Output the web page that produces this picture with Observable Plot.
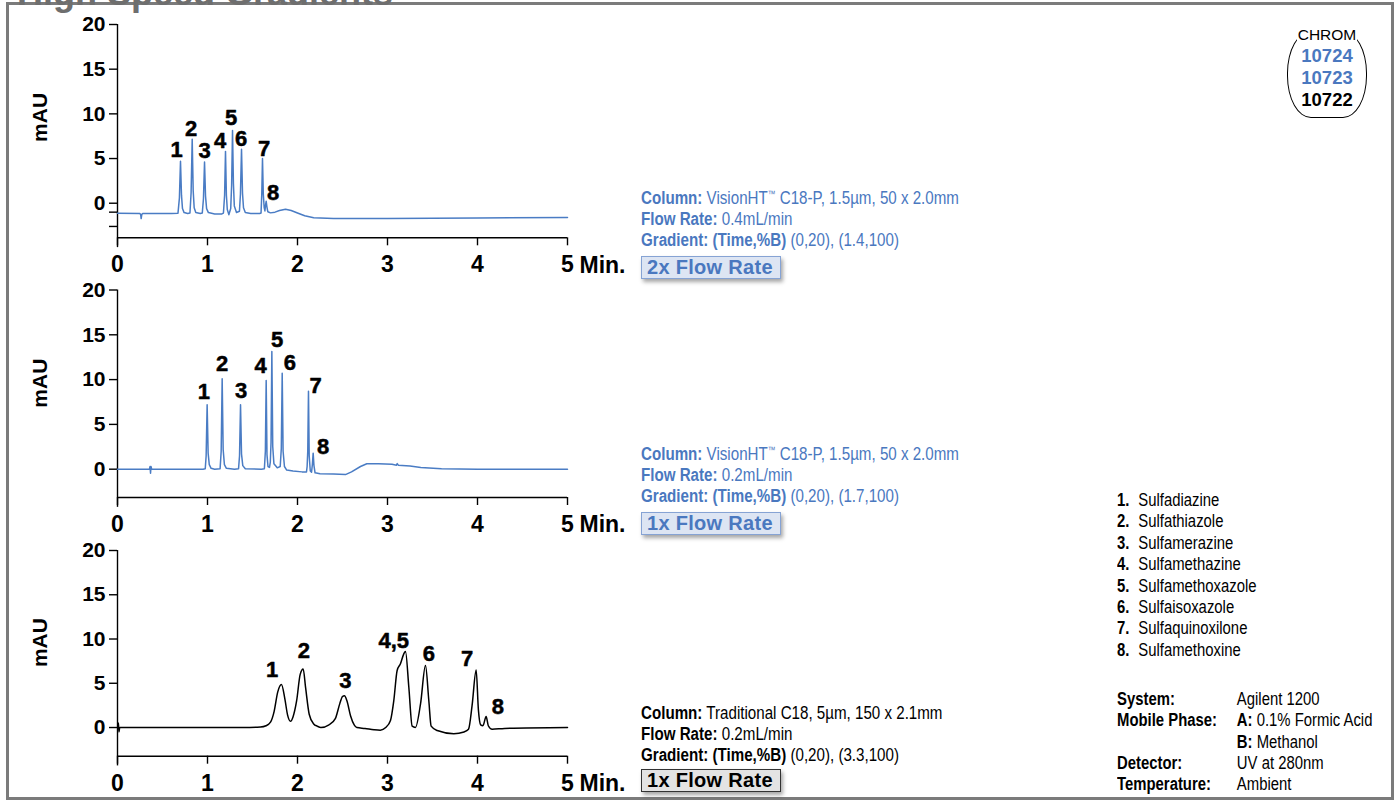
<!DOCTYPE html>
<html>
<head>
<meta charset="utf-8">
<script src="https://cdn.jsdelivr.net/npm/d3@7"></script>
<script src="https://cdn.jsdelivr.net/npm/@observablehq/plot@0.6"></script>
<style>
  html, body { margin: 0; padding: 0; background: #fff; }
  #chart { position: relative; width: 1398px; height: 801px; overflow: hidden; background: #fff;
           font-family: "Liberation Sans", Arial, Helvetica, sans-serif; color: #000; }
  .frame { position: absolute; left: 6px; top: 2px; width: 1388px; height: 798px;
           border: 3px solid #7b7b7b; box-sizing: border-box; }
  .title { position: absolute; left: 17px; top: -25.5px; font-size: 36px; line-height: 36px;
           font-weight: bold; color: #6e6e6e; white-space: nowrap; }
  .panel { position: absolute; left: 0; }
  .info { position: absolute; font-size: 17.5px; line-height: 21px; white-space: nowrap;
          transform: scaleX(0.865); transform-origin: 0 0; }
  .info sup { font-size: 9px; line-height: 0; vertical-align: 7px; }
  .blue { color: #4a78bf; }
  .badge { position: absolute; width: 140px; height: 23px; box-sizing: border-box; font-weight: bold;
           font-size: 20px; line-height: 21px; padding-left: 5px; letter-spacing: 0.3px; white-space: nowrap;
           box-shadow: 2px 3px 4px rgba(0,0,0,0.35); }
  .badge.b { color: #4a78bf; background: #dde5f3; border: 1px solid #86a3d4; }
  .badge.k { color: #000; background: #e3e3e3; border: 1px solid #333; }
  .legend { position: absolute; left: 1117px; top: 490px; font-size: 17.5px; line-height: 21.4px;
            white-space: nowrap; transform: scaleX(0.85); transform-origin: 0 0; }
  .legend .n { display: inline-block; width: 25px; font-weight: bold; }
  .sys { position: absolute; left: 1117px; top: 689px; font-size: 17.5px; line-height: 21.3px;
         white-space: nowrap; transform: scaleX(0.85); transform-origin: 0 0; }
  .sys .row { display: flex; }
  .sys .k { width: 141px; font-weight: bold; }
  .chrom { position: absolute; left: 1287px; top: 31px; width: 80px; height: 87px; box-sizing: border-box;
           border: 1.3px solid #000; border-radius: 24px / 42px; }
  .chromtxt { position: absolute; left: 1287px; width: 80px; text-align: center; white-space: nowrap; }
</style>
</head>
<body>
<div id="chart"></div>
<script>
// ---------- data ----------
const xTicks = [0, 1, 2, 3, 4, 5];
const yTicks = [0, 5, 10, 15, 20];
const panel1MinorTicks = [-1, -2.6];

const peakText = ["1", "2", "3", "4", "5", "6", "7", "8"];
const peakText3 = ["1", "2", "3", "4,5", "6", "7", "8"];

// Panel 1: VisionHT C18-P, 0.4 mL/min (2x flow rate) — [time (min), mAU]
const trace1 = [
  [0, -1.12], [0.25, -1.15], [0.258, -1.3], [0.263, -1.72], [0.27, -1.25], [0.28, -1.15],
  [0.6, -1.15], [0.672, -1.12], [0.688, 0.6], [0.700, 4.69], [0.711, 0.9], [0.722, -0.6], [0.74, -1.05], [0.78, -1.15],
  [0.805, -1.1], [0.818, 1.2], [0.830, 7.15], [0.841, 1.4], [0.852, -0.5], [0.87, -1.05], [0.92, -1.15],
  [0.942, -1.1], [0.955, 0.5], [0.967, 4.6], [0.978, 0.8], [0.99, -0.6], [1.01, -1.05], [1.08, -1.2], [1.16, -1.2],
  [1.177, -1.1], [1.19, 0.9], [1.200, 5.8], [1.210, 0.9], [1.22, -0.7], [1.237, -1.28],
  [1.258, -0.6], [1.268, 2.0], [1.278, 8.15], [1.288, 2.2], [1.298, -0.3], [1.322, -1.04],
  [1.355, -0.9], [1.366, 1.0], [1.378, 6.03], [1.389, 1.1], [1.40, -0.5], [1.42, -1.05], [1.48, -1.15], [1.58, -1.15],
  [1.595, -1.1], [1.603, 1.0], [1.611, 5.0], [1.62, 1.0], [1.63, -0.5], [1.638, -0.86],
  [1.645, -0.2], [1.652, 0.22], [1.66, -0.4], [1.67, -0.95], [1.70, -1.08], [1.75, -1.0], [1.80, -0.82],
  [1.867, -0.67], [1.93, -0.82], [2.0, -1.1], [2.08, -1.4], [2.18, -1.62], [2.4, -1.7], [3.0, -1.7], [4.0, -1.65], [5.0, -1.6]
];
const label1Time = [0.656, 0.819, 0.967, 1.141, 1.263, 1.374, 1.63, 1.73];
const label1Mau = [5.97, 8.32, 5.85, 6.97, 9.55, 7.20, 6.08, 1.16];

// Panel 2: VisionHT C18-P, 0.2 mL/min (1x flow rate)
const trace2 = [
  [0, 0], [0.355, 0], [0.362, 0.3], [0.367, -0.45], [0.372, 0.3], [0.38, 0], [0.95, 0],
  [0.975, 0.05], [0.985, 1.5], [0.996, 7.19], [1.007, 1.8], [1.02, 0.5], [1.04, 0.1], [1.08, 0],
  [1.14, 0.05], [1.152, 2.0], [1.163, 10.09], [1.174, 2.2], [1.188, 0.5], [1.21, 0.1], [1.30, 0],
  [1.345, 0.05], [1.356, 1.5], [1.367, 7.19], [1.378, 1.7], [1.392, 0.4], [1.42, 0.05], [1.60, 0],
  [1.632, 0.05], [1.643, 2.0], [1.652, 9.9], [1.661, 1.6], [1.672, 0.3], [1.689, 0.2],
  [1.698, 0.8], [1.706, 3.0], [1.715, 13.14], [1.725, 2.5], [1.738, 0.6], [1.775, 0.15],
  [1.808, 0.3], [1.82, 2.3], [1.83, 10.7], [1.84, 2.0], [1.855, 0.3], [1.88, -0.1], [1.95, -0.2], [2.05, -0.3], [2.1, -0.3],
  [2.107, 0.3], [2.114, 2.0], [2.122, 8.7], [2.13, 1.5], [2.142, -0.2], [2.156, -0.33],
  [2.165, 0.5], [2.174, 1.79], [2.183, 0.4], [2.195, -0.4], [2.25, -0.5], [2.4, -0.55], [2.533, -0.6],
  [2.6, -0.3], [2.7, 0.3], [2.77, 0.6], [2.9, 0.62], [3.05, 0.55], [3.1, 0.45], [3.108, 0.62], [3.12, 0.45],
  [3.25, 0.35], [3.37, 0.2], [3.6, 0.05], [4.0, 0], [5.0, 0]
];
const label2Time = [0.959, 1.163, 1.374, 1.589, 1.774, 1.915, 2.2, 2.285];
const label2Mau = [8.59, 11.69, 8.78, 11.57, 14.44, 11.83, 9.34, 2.46];

// Panel 3: Traditional C18, 0.2 mL/min
const trace3 = [
  [0, 0], [0.005, 0.1], [0.01, 0.5], [0.016, -0.5], [0.025, 0], [1.4, 0], [1.589, 0.05], [1.65, 0.2],
  [1.70, 0.6], [1.74, 1.8], [1.78, 4.0], [1.822, 4.86], [1.86, 3.2], [1.89, 1.4], [1.922, 0.7],
  [1.95, 1.2], [1.99, 3.0], [2.03, 6.0], [2.063, 6.6], [2.09, 4.5], [2.13, 1.5], [2.18, 0.4], [2.22, 0.15], [2.26, 0],
  [2.35, 0.3], [2.42, 1.0], [2.47, 2.7], [2.50, 3.5], [2.522, 3.6], [2.55, 3.0], [2.59, 1.3], [2.63, 0.3], [2.66, 0],
  [2.75, -0.1], [2.85, -0.25], [2.92, -0.3], [2.98, 0], [3.033, 0.8], [3.07, 3.05], [3.107, 6.44], [3.144, 7.2],
  [3.181, 8.33], [3.2, 8.6], [3.237, 4.55], [3.274, 0.15], [3.31, 0], [3.367, 2.67], [3.422, 7.0], [3.459, 3.05],
  [3.485, 0.15], [3.552, -0.34], [3.737, -0.7], [3.85, -0.5], [3.90, -0.2], [3.94, 2.5], [3.985, 6.5], [4.01, 2.0],
  [4.035, 0.3], [4.06, 0.2], [4.096, 1.24], [4.12, 0.2], [4.163, -0.2], [4.3, -0.1], [5.0, 0]
];
const label3Time = [1.719, 2.07, 2.533, 3.07, 3.459, 3.885, 4.226];
const label3Mau = [6.52, 8.62, 5.31, 9.83, 8.33, 7.76, 2.37];

const compounds = ["Sulfadiazine", "Sulfathiazole", "Sulfamerazine", "Sulfamethazine",
                   "Sulfamethoxazole", "Sulfaisoxazole", "Sulfaquinoxilone", "Sulfamethoxine"];
const systemKeys = ["System:", "Mobile Phase:", "", "Detector:", "Temperature:"];
const systemVals = ["Agilent 1200", "<b>A:</b> 0.1% Formic Acid", "<b>B:</b> Methanol", "UV at 280nm", "Ambient"];
const chromIds = ["10724", "10723", "10722"];

// ---------- drawing ----------
const FONT = '"Liberation Sans", Arial, Helvetica, sans-serif';
const BLUE = "#4a7cc4";
const chart = document.getElementById("chart");

function drawPanel(cfg) {
  const data = cfg.trace.map(([t, v]) => ({t, v}));
  const labels = cfg.labelText.map((s, i) => ({s, t: cfg.labelTime[i], v: cfg.labelMau[i]}));
  const yt = yTicks.concat(cfg.minorTicks || []);
  const svg = Plot.plot({
    width: 640, height: cfg.height,
    marginLeft: 117, marginRight: 73, marginTop: cfg.mt, marginBottom: cfg.mb,
    style: {background: "transparent", overflow: "visible", color: "#000", fontFamily: FONT},
    x: {domain: [0, 5]},
    y: {domain: [cfg.yMin, 20]},
    marks: [
      Plot.ruleX([0], {y1: cfg.yMin - 1.1, y2: 20, stroke: "#000", strokeWidth: 1.4}),
      Plot.ruleY([cfg.yMin], {x1: 0, x2: 5, stroke: "#000", strokeWidth: 1.4}),
      Plot.axisY({ticks: yt, tickSize: 8, tickPadding: 4, label: null,
                  tickFormat: d => d < 0 ? "" : String(d), fontSize: 21, fontWeight: "bold", strokeWidth: 1.4}),
      Plot.axisX({ticks: xTicks, tickSize: 8, tickPadding: 10, label: null,
                  tickFormat: d => String(d), fontSize: 23, fontWeight: "bold", strokeWidth: 1.4}),
      Plot.text(["Min."], {x: 5, y: cfg.yMin, dx: 12, dy: 27.5, textAnchor: "start",
                           fontSize: 23, fontWeight: "bold", fill: "#000"}),
      Plot.text(["mAU"], {x: 0, y: 9.6, dx: -77, rotate: -90, fontSize: 21, fontWeight: "bold", fill: "#000"}),
      Plot.line(data, {x: "t", y: "v", stroke: cfg.color, strokeWidth: 1.5, curve: cfg.curve || "linear"}),
      Plot.text(labels, {x: "t", y: "v", text: "s", fontSize: 22, fontWeight: "bold", fill: "#000",
                         stroke: "#000", strokeWidth: 0.5})
    ]
  });
  const wrap = document.createElement("div");
  wrap.className = "panel";
  wrap.style.top = cfg.top + "px";
  wrap.appendChild(svg);
  chart.appendChild(wrap);
}

drawPanel({trace: trace1, labelText: peakText, labelTime: label1Time, labelMau: label1Mau,
           color: BLUE, yMin: -3.87, top: 0, height: 276, mt: 24, mb: 38.7, minorTicks: panel1MinorTicks});
drawPanel({trace: trace2, labelText: peakText, labelTime: label2Time, labelMau: label2Mau,
           color: BLUE, yMin: -3.16, top: 276, height: 260, mt: 13.5, mb: 39});
drawPanel({trace: trace3, labelText: peakText3, labelTime: label3Time, labelMau: label3Mau,
           color: "#000", yMin: -3.24, top: 536, height: 265, mt: 14, mb: 45.3, curve: "monotone-x"});

// frame and title
chart.insertAdjacentHTML("beforeend", `
  <div class="frame"></div>
  <div class="title">High Speed Gradients</div>

  <div class="info blue" style="left:641px;top:187.5px">
    <div><b>Column:</b> VisionHT<sup>™</sup> C18-P, 1.5µm, 50 x 2.0mm</div>
    <div><b>Flow Rate:</b> 0.4mL/min</div>
    <div><b>Gradient: (Time,%B)</b> (0,20), (1.4,100)</div>
  </div>
  <div class="badge b" style="left:641px;top:256px">2x Flow Rate</div>

  <div class="info blue" style="left:641px;top:443.5px">
    <div><b>Column:</b> VisionHT<sup>™</sup> C18-P, 1.5µm, 50 x 2.0mm</div>
    <div><b>Flow Rate:</b> 0.2mL/min</div>
    <div><b>Gradient: (Time,%B)</b> (0,20), (1.7,100)</div>
  </div>
  <div class="badge b" style="left:641px;top:512px">1x Flow Rate</div>

  <div class="info" style="left:641px;top:702.5px">
    <div><b>Column:</b> Traditional C18, 5µm, 150 x 2.1mm</div>
    <div><b>Flow Rate:</b> 0.2mL/min</div>
    <div><b>Gradient: (Time,%B)</b> (0,20), (3.3,100)</div>
  </div>
  <div class="badge k" style="left:641px;top:769px">1x Flow Rate</div>

  <div class="chrom"></div>
  <div class="chromtxt" style="top:26px;"><span style="background:#fff;font-size:15.5px;line-height:18px;padding:0 1px">CHROM</span></div>
`);

const legend = document.createElement("div");
legend.className = "legend";
legend.innerHTML = compounds.map((c, i) => `<div><span class="n">${i + 1}.</span>${c}</div>`).join("");
chart.appendChild(legend);

const sys = document.createElement("div");
sys.className = "sys";
sys.innerHTML = systemKeys.map((k, i) => `<div class="row"><div class="k">${k}</div><div>${systemVals[i]}</div></div>`).join("");
chart.appendChild(sys);

const chromColors = ["#4a78bf", "#4a78bf", "#000"];
const chromTops = [45, 66.5, 89];
chromIds.forEach((id, i) => {
  const d = document.createElement("div");
  d.className = "chromtxt";
  d.style.top = chromTops[i] + "px";
  d.style.fontSize = "18.5px";
  d.style.lineHeight = "21px";
  d.style.fontWeight = "bold";
  d.style.color = chromColors[i];
  d.textContent = id;
  chart.appendChild(d);
});
</script>
</body>
</html>
